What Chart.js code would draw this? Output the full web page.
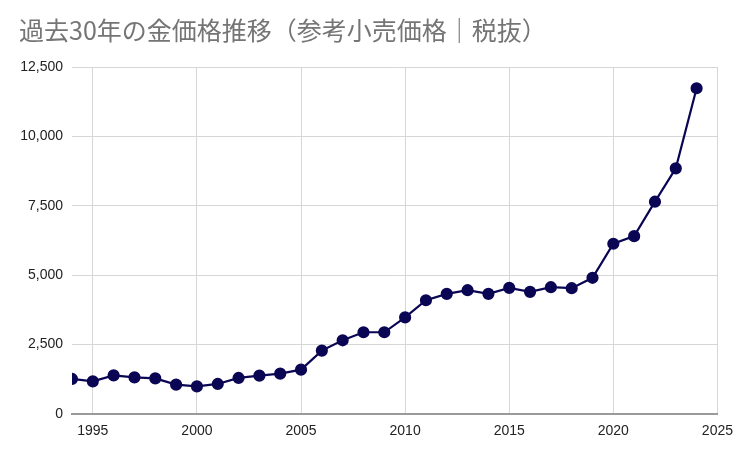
<!DOCTYPE html>
<html>
<head>
<meta charset="utf-8">
<script src="https://cdn.jsdelivr.net/npm/chart.js@4"></script>
<style>
  html, body { margin: 0; padding: 0; background: #fff; }
  #wrap { width: 742px; height: 449px; }
</style>
</head>
<body>
<div id="wrap"><canvas id="chart"></canvas></div>
<script>
// 金価格（参考小売価格・税抜、円/g）
const years = [1994, 1995, 1996, 1997, 1998, 1999, 2000, 2001, 2002, 2003,
  2004, 2005, 2006, 2007, 2008, 2009, 2010, 2011, 2012, 2013,
  2014, 2015, 2016, 2017, 2018, 2019, 2020, 2021, 2022, 2023, 2024];
const prices = [1263, 1176, 1393, 1320, 1284, 1057, 996, 1082, 1299, 1382,
  1454, 1598, 2284, 2655, 2944, 2944, 3480, 4098, 4329, 4459,
  4329, 4545, 4401, 4567, 4531, 4906, 6133, 6407, 7648, 8849, 11735];
const yTicks = [0, 2500, 5000, 7500, 10000, 12500];
const xRange = [1994, 2025];

const title = '過去30年の金価格推移（参考小売価格｜税抜）';
const lineColor = '#0b0654';

const ctx = document.getElementById('chart').getContext('2d');
new Chart(ctx, {
  type: 'line',
  data: {
    datasets: [{
      data: years.map((y, i) => ({ x: y, y: prices[i] })),
      borderColor: lineColor,
      backgroundColor: lineColor,
      borderWidth: 2.2,
      pointRadius: 5,
      pointHoverRadius: 5,
      tension: 0
    }]
  },
  options: {
    responsive: true,
    maintainAspectRatio: false,
    animation: false,
    layout: { padding: { left: 19, right: 21, top: 0, bottom: 0 } },
    plugins: {
      legend: { display: false },
      tooltip: { enabled: false },
      title: {
        display: true,
        text: title,
        align: 'start',
        color: '#757575',
        font: { family: '"Noto Sans CJK JP", sans-serif', size: 25, weight: 'normal' },
        padding: { top: 15, bottom: 22 }
      }
    },
    scales: {
      x: {
        type: 'linear',
        min: xRange[0],
        max: xRange[1],
        afterFit: s => { s.height = 35; },
        ticks: {
          stepSize: 5,
          includeBounds: false,
          padding: 9,
          color: '#222',
          font: { family: 'Arial, "Liberation Sans", sans-serif', size: 14 },
          callback: v => String(v)
        },
        grid: { color: '#d6d6d6', drawTicks: false },
        border: { display: true, color: '#9a9a9a', width: 2 }
      },
      y: {
        min: yTicks[0],
        max: yTicks[yTicks.length - 1],
        afterBuildTicks: s => { s.ticks = yTicks.map(v => ({ value: v })); },
        afterFit: s => { s.width = 53; },
        ticks: {
          padding: 9,
          color: '#222',
          font: { family: 'Arial, "Liberation Sans", sans-serif', size: 14 },
          callback: v => v.toLocaleString('en-US')
        },
        grid: { color: '#d6d6d6', drawTicks: false },
        border: { display: false }
      }
    }
  }
});
</script>
</body>
</html>
